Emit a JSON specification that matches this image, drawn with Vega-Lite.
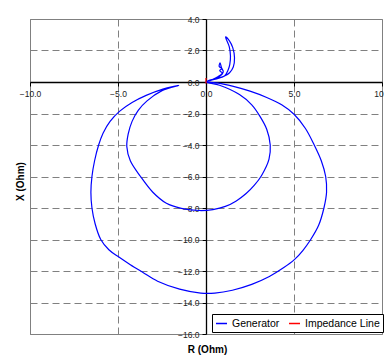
{
  "$schema": "https://vega.github.io/schema/vega-lite/v6.json",
  "width": 352,
  "height": 315,
  "autosize": {"type": "none"},
  "padding": {"left": 30, "top": 19, "right": 2, "bottom": 25},
  "background": "white",
  "config": {
    "font": "Liberation Sans",
    "view": {"stroke": "#808080", "strokeWidth": 1},
    "axis": {
      "grid": true,
      "gridDash": [7, 4],
      "gridColor": "#808080",
      "gridWidth": 1,
      "domainColor": "black",
      "domainWidth": 1.3,
      "tickColor": "black",
      "tickSize": 4,
      "labelFontSize": 8.5,
      "labelColor": "#222222",
      "labelOverlap": false,
      "labelFlush": false,
      "labelBound": false,
      "titleFontSize": 10,
      "titleFontWeight": "bold",
      "titleColor": "black"
    }
  },
  "data": {
    "values": [
      {"series": "Generator", "i": 1, "r": 0.05, "x": 0.05},
      {"series": "Generator", "i": 2, "r": 0.5, "x": 0.2},
      {"series": "Generator", "i": 3, "r": 1.05, "x": 0.38},
      {"series": "Generator", "i": 4, "r": 1.25, "x": 0.75},
      {"series": "Generator", "i": 5, "r": 1.35, "x": 1.1},
      {"series": "Generator", "i": 6, "r": 1.39, "x": 1.65},
      {"series": "Generator", "i": 7, "r": 1.32, "x": 2.25},
      {"series": "Generator", "i": 8, "r": 1.11, "x": 2.86},
      {"series": "Generator", "i": 9, "r": 1.34, "x": 2.6},
      {"series": "Generator", "i": 10, "r": 1.52, "x": 2.18},
      {"series": "Generator", "i": 11, "r": 1.62, "x": 1.54},
      {"series": "Generator", "i": 12, "r": 1.55, "x": 0.95},
      {"series": "Generator", "i": 13, "r": 1.34, "x": 0.59},
      {"series": "Generator", "i": 14, "r": 1.05, "x": 0.38},
      {"series": "Generator", "i": 15, "r": 0.6, "x": 0.2},
      {"series": "Generator", "i": 16, "r": 0.1, "x": 0.08},
      {"series": "Generator", "i": 17, "r": 0.5, "x": 0.22},
      {"series": "Generator", "i": 18, "r": 0.8, "x": 0.38},
      {"series": "Generator", "i": 19, "r": 0.95, "x": 0.55},
      {"series": "Generator", "i": 20, "r": 0.78, "x": 0.72},
      {"series": "Generator", "i": 21, "r": 0.9, "x": 0.85},
      {"series": "Generator", "i": 22, "r": 0.75, "x": 0.98},
      {"series": "Generator", "i": 23, "r": 0.8, "x": 1.22},
      {"series": "Generator", "i": 24, "r": 0.88, "x": 0.9},
      {"series": "Generator", "i": 25, "r": 0.98, "x": 0.65},
      {"series": "Generator", "i": 26, "r": 0.7, "x": 0.35},
      {"series": "Generator", "i": 27, "r": 0.3, "x": 0.12},
      {"series": "Generator", "i": 28, "r": 0.0, "x": 0.0},
      {"series": "Generator", "i": 29, "r": 0.77, "x": -0.21},
      {"series": "Generator", "i": 30, "r": 1.9, "x": -0.8},
      {"series": "Generator", "i": 31, "r": 2.6, "x": -1.45},
      {"series": "Generator", "i": 32, "r": 3.05, "x": -2.15},
      {"series": "Generator", "i": 33, "r": 3.45, "x": -3.0},
      {"series": "Generator", "i": 34, "r": 3.65, "x": -4.0},
      {"series": "Generator", "i": 35, "r": 3.58, "x": -4.9},
      {"series": "Generator", "i": 36, "r": 3.15, "x": -5.95},
      {"series": "Generator", "i": 37, "r": 2.75, "x": -6.55},
      {"series": "Generator", "i": 38, "r": 2.28, "x": -7.08},
      {"series": "Generator", "i": 39, "r": 1.72, "x": -7.55},
      {"series": "Generator", "i": 40, "r": 1.1, "x": -7.9},
      {"series": "Generator", "i": 41, "r": 0.39, "x": -8.1},
      {"series": "Generator", "i": 42, "r": -0.37, "x": -8.16},
      {"series": "Generator", "i": 43, "r": -1.4, "x": -8.02},
      {"series": "Generator", "i": 44, "r": -2.25, "x": -7.7},
      {"series": "Generator", "i": 45, "r": -3.02, "x": -7.0},
      {"series": "Generator", "i": 46, "r": -3.72, "x": -6.0},
      {"series": "Generator", "i": 47, "r": -4.3, "x": -5.0},
      {"series": "Generator", "i": 48, "r": -4.5, "x": -4.1},
      {"series": "Generator", "i": 49, "r": -4.42, "x": -3.3},
      {"series": "Generator", "i": 50, "r": -4.2, "x": -2.5},
      {"series": "Generator", "i": 51, "r": -3.85, "x": -1.8},
      {"series": "Generator", "i": 52, "r": -3.35, "x": -1.2},
      {"series": "Generator", "i": 53, "r": -2.5, "x": -0.55},
      {"series": "Generator", "i": 54, "r": -1.55, "x": -0.21},
      {"series": "Generator", "i": 55, "r": -2.45, "x": -0.45},
      {"series": "Generator", "i": 56, "r": -3.4, "x": -0.85},
      {"series": "Generator", "i": 57, "r": -4.2, "x": -1.3},
      {"series": "Generator", "i": 58, "r": -4.9, "x": -1.85},
      {"series": "Generator", "i": 59, "r": -5.45, "x": -2.5},
      {"series": "Generator", "i": 60, "r": -5.85, "x": -3.25},
      {"series": "Generator", "i": 61, "r": -6.1, "x": -4.0},
      {"series": "Generator", "i": 62, "r": -6.33, "x": -5.0},
      {"series": "Generator", "i": 63, "r": -6.48, "x": -6.0},
      {"series": "Generator", "i": 64, "r": -6.54, "x": -7.0},
      {"series": "Generator", "i": 65, "r": -6.48, "x": -8.0},
      {"series": "Generator", "i": 66, "r": -6.3, "x": -9.0},
      {"series": "Generator", "i": 67, "r": -5.98, "x": -10.0},
      {"series": "Generator", "i": 68, "r": -5.52, "x": -10.65},
      {"series": "Generator", "i": 69, "r": -4.97, "x": -11.1},
      {"series": "Generator", "i": 70, "r": -4.3, "x": -11.6},
      {"series": "Generator", "i": 71, "r": -3.6, "x": -12.08},
      {"series": "Generator", "i": 72, "r": -2.75, "x": -12.65},
      {"series": "Generator", "i": 73, "r": -1.5, "x": -13.15},
      {"series": "Generator", "i": 74, "r": -0.3, "x": -13.4},
      {"series": "Generator", "i": 75, "r": 0.5, "x": -13.4},
      {"series": "Generator", "i": 76, "r": 1.5, "x": -13.22},
      {"series": "Generator", "i": 77, "r": 2.6, "x": -12.85},
      {"series": "Generator", "i": 78, "r": 3.6, "x": -12.35},
      {"series": "Generator", "i": 79, "r": 4.4, "x": -11.8},
      {"series": "Generator", "i": 80, "r": 5.02, "x": -11.28},
      {"series": "Generator", "i": 81, "r": 5.5, "x": -10.7},
      {"series": "Generator", "i": 82, "r": 5.95, "x": -10.0},
      {"series": "Generator", "i": 83, "r": 6.4, "x": -9.1},
      {"series": "Generator", "i": 84, "r": 6.7, "x": -8.0},
      {"series": "Generator", "i": 85, "r": 6.85, "x": -7.0},
      {"series": "Generator", "i": 86, "r": 6.8, "x": -6.0},
      {"series": "Generator", "i": 87, "r": 6.55, "x": -5.0},
      {"series": "Generator", "i": 88, "r": 6.15, "x": -4.0},
      {"series": "Generator", "i": 89, "r": 5.65, "x": -2.95},
      {"series": "Generator", "i": 90, "r": 5.0, "x": -2.05},
      {"series": "Generator", "i": 91, "r": 4.3, "x": -1.45},
      {"series": "Generator", "i": 92, "r": 3.45, "x": -0.98},
      {"series": "Generator", "i": 93, "r": 2.5, "x": -0.58},
      {"series": "Generator", "i": 94, "r": 1.5, "x": -0.26},
      {"series": "Generator", "i": 95, "r": 0.7, "x": -0.07},
      {"series": "Generator", "i": 96, "r": 0.05, "x": 0.0},
      {"series": "Impedance Line", "i": 1, "r": 0.0, "x": -0.1},
      {"series": "Impedance Line", "i": 2, "r": 0.0, "x": 0.25}
    ]
  },
  "mark": {"type": "line", "strokeWidth": 1.2, "clip": true, "interpolate": "catmull-rom"},
  "encoding": {
    "x": {
      "field": "r",
      "type": "quantitative",
      "scale": {"domain": [-10, 10], "nice": false, "zero": false},
      "axis": {
        "orient": "bottom",
        "offset": -252,
        "values": [-10, -5, 0, 5, 10],
        "format": ".1f",
        "labelPadding": 3,
        "title": "R (Ohm)",
        "titleX": 177,
        "titleY": 267,
        "titleAlign": "center",
        "titleBaseline": "middle"
      }
    },
    "y": {
      "field": "x",
      "type": "quantitative",
      "scale": {"domain": [-16, 4], "nice": false, "zero": false},
      "axis": {
        "orient": "left",
        "offset": -176,
        "values": [4, 2, 0, -2, -4, -6, -8, -10, -12, -14, -16],
        "format": ".1f",
        "labelPadding": 3,
        "title": "X (Ohm)",
        "titleX": -186,
        "titleY": 162,
        "titleAngle": 270,
        "titleAlign": "center",
        "titleBaseline": "middle"
      }
    },
    "color": {
      "field": "series",
      "type": "nominal",
      "scale": {"domain": ["Generator", "Impedance Line"], "range": ["#0000FF", "#FF0000"]},
      "legend": {
        "title": null,
        "orient": "none",
        "legendX": 182,
        "legendY": 295,
        "direction": "horizontal",
        "strokeColor": "black",
        "fillColor": "white",
        "padding": 3,
        "symbolType": "stroke",
        "symbolSize": 121,
        "symbolStrokeWidth": 1.5,
        "labelFontSize": 10.5,
        "labelColor": "black",
        "labelOffset": 4,
        "columnPadding": 6
      }
    },
    "order": {"field": "i", "type": "quantitative"}
  }
}
